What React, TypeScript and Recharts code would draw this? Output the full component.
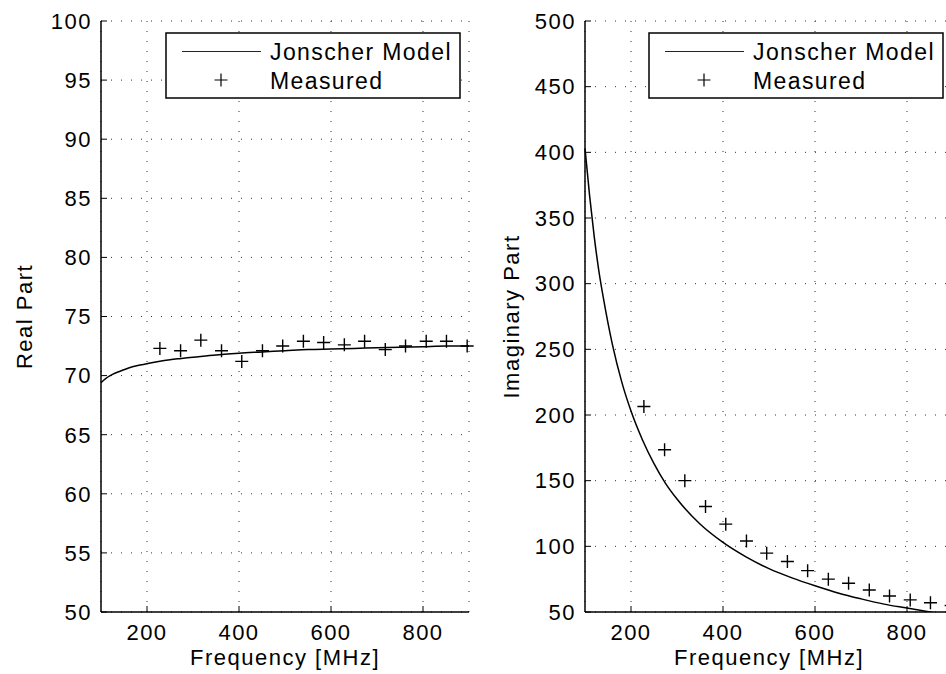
import React from 'react';
import {
  ComposedChart,
  Line,
  Scatter,
  XAxis,
  YAxis,
  CartesianGrid,
  Legend,
} from 'recharts';

// Measured frequencies [MHz]
const measuredFreq = [228, 273, 317, 362, 406, 451, 495, 540, 584, 629, 673, 718, 762, 807, 851, 896];
// Measured permittivity, real and imaginary parts
const measuredReal = [72.3, 72.1, 73.0, 72.1, 71.2, 72.1, 72.5, 72.9, 72.8, 72.6, 72.9, 72.2, 72.5, 72.9, 72.9, 72.5];
const measuredImag = [206.5, 173.5, 150, 130.3, 116.9, 104.1, 94.8, 88.4, 81.5, 75, 71.9, 66.8, 62.2, 59.2, 57.1, 55];

// Jonscher model evaluated on a frequency grid [MHz]
const modelFreq = [100, 110, 120, 130, 140, 160, 180, 200, 225, 250, 275, 300, 350, 400, 450, 500, 550, 600, 650, 700, 750, 800, 850, 900];
const modelReal = [69.4, 69.75, 70.0, 70.2, 70.35, 70.65, 70.85, 71.0, 71.2, 71.35, 71.45, 71.55, 71.75, 71.9, 72.0, 72.1, 72.2, 72.25, 72.3, 72.35, 72.4, 72.45, 72.5, 72.5];
const modelImag = [403, 367, 336, 310, 289, 253, 225, 203, 181, 163, 148, 136, 117, 103, 92, 83, 76, 70, 64.5, 60, 56, 53, 50, 47];

const freqTicks = [200, 400, 600, 800];
const realTicks = [50, 55, 60, 65, 70, 75, 80, 85, 90, 95, 100];
const imagTicks = [50, 100, 150, 200, 250, 300, 350, 400, 450, 500];

const FONT = '"Liberation Sans", Arial, Helvetica, sans-serif';
const textStyle = { fontSize: 22, fontFamily: FONT, fill: '#000', letterSpacing: 1.5 };

const PlusMark = (props: any) => {
  const { cx, cy } = props;
  if (cx == null || cy == null) return null;
  const r = 6.5;
  return (
    <path
      d={`M${cx - r},${cy}H${cx + r}M${cx},${cy - r}V${cy + r}`}
      stroke="#000"
      strokeWidth={1.4}
      fill="none"
    />
  );
};

const LegendBox = () => (
  <svg width={296} height={67} style={{ display: 'block' }}>
    <rect x={1} y={1} width={294} height={65} fill="#fff" stroke="#000" strokeWidth={1.5} />
    <line x1={17} x2={96} y1={19.5} y2={19.5} stroke="#222" strokeWidth={1} />
    <text x={105} y={28} fontSize={23} fontFamily={FONT} letterSpacing={1.4} fill="#000">
      Jonscher Model
    </text>
    <path d="M49.5,48H62.5M56,41.5V54.5" stroke="#000" strokeWidth={1.2} fill="none" />
    <text x={105} y={57} fontSize={23} fontFamily={FONT} letterSpacing={1.4} fill="#000">
      Measured
    </text>
  </svg>
);

type PanelProps = {
  model: { f: number; v: number }[];
  measured: { f: number; v: number }[];
  domain: [number, number];
  ticks: number[];
  yLabel: string;
  yAxisWidth: number;
  rightMargin: number;
  labelDx: number;
  legendLeft: number;
};

const Panel = ({ model, measured, domain, ticks, yLabel, yAxisWidth, rightMargin, labelDx, legendLeft }: PanelProps) => (
  <ComposedChart
    width={480}
    height={674}
    margin={{ top: 21, right: rightMargin, bottom: 0, left: 0 }}
  >
    <CartesianGrid stroke="#333" strokeDasharray="1 9" strokeWidth={1} />
    <XAxis
      xAxisId={0}
      dataKey="f"
      type="number"
      domain={[100, 900]}
      ticks={freqTicks}
      interval={0}
      height={62}
      tickSize={-6}
      tickMargin={18}
      axisLine={{ stroke: '#000', strokeWidth: 1.5 }}
      tickLine={{ stroke: '#000', strokeWidth: 1 }}
      tick={textStyle}
      label={{ value: 'Frequency [MHz]', position: 'insideBottom', offset: 9, ...textStyle }}
    />
    <XAxis
      xAxisId="top"
      orientation="top"
      dataKey="f"
      type="number"
      domain={[100, 900]}
      ticks={freqTicks}
      interval={0}
      height={0}
      tickSize={-6}
      axisLine={{ stroke: '#000', strokeWidth: 1.5 }}
      tickLine={{ stroke: '#000', strokeWidth: 1 }}
      tick={false}
    />
    <YAxis
      yAxisId={0}
      type="number"
      domain={domain}
      ticks={ticks}
      interval={0}
      allowDataOverflow
      width={yAxisWidth}
      tickSize={-6}
      tickMargin={15}
      axisLine={{ stroke: '#000', strokeWidth: 1.5 }}
      tickLine={{ stroke: '#000', strokeWidth: 1 }}
      tick={textStyle}
      label={{ value: yLabel, angle: -90, position: 'center', dx: labelDx, ...textStyle }}
    />
    <YAxis
      yAxisId="right"
      orientation="right"
      type="number"
      domain={domain}
      ticks={ticks}
      interval={0}
      width={0}
      tickSize={-6}
      axisLine={{ stroke: '#000', strokeWidth: 1.5 }}
      tickLine={{ stroke: '#000', strokeWidth: 1 }}
      tick={false}
    />
    <Line
      data={model}
      dataKey="v"
      type="monotone"
      stroke="#000"
      strokeWidth={1.5}
      dot={false}
      activeDot={false}
      isAnimationActive={false}
      legendType="line"
      name="Jonscher Model"
    />
    <Scatter
      data={measured}
      dataKey="v"
      shape={PlusMark}
      isAnimationActive={false}
      name="Measured"
    />
    <Legend
      layout="horizontal"
      verticalAlign="middle"
      align="center"
      wrapperStyle={{ left: legendLeft, top: 32, width: 296, height: 67 }}
      content={() => <LegendBox />}
    />
  </ComposedChart>
);

export default function App() {
  const realModelData = modelFreq.map((f, i) => ({ f, v: modelReal[i] }));
  const imagModelData = modelFreq.map((f, i) => ({ f, v: modelImag[i] }));
  const realMeasuredData = measuredFreq.map((f, i) => ({ f, v: measuredReal[i] }));
  const imagMeasuredData = measuredFreq.map((f, i) => ({ f, v: measuredImag[i] }));

  return (
    <div
      style={{
        position: 'fixed',
        left: 0,
        top: 0,
        width: 946,
        height: 674,
        overflow: 'hidden',
        background: '#fff',
      }}
    >
      <div style={{ position: 'absolute', left: 0, top: 0 }}>
        <Panel
          model={realModelData}
          measured={realMeasuredData}
          domain={[50, 100]}
          ticks={realTicks}
          yLabel="Real Part"
          yAxisWidth={101}
          rightMargin={11}
          labelDx={-26}
          legendLeft={165}
        />
      </div>
      <div style={{ position: 'absolute', left: 480, top: 0 }}>
        <Panel
          model={imagModelData}
          measured={imagMeasuredData}
          domain={[50, 500]}
          ticks={imagTicks}
          yLabel="Imaginary Part"
          yAxisWidth={105}
          rightMargin={7}
          labelDx={-21}
          legendLeft={168}
        />
      </div>
    </div>
  );
}
